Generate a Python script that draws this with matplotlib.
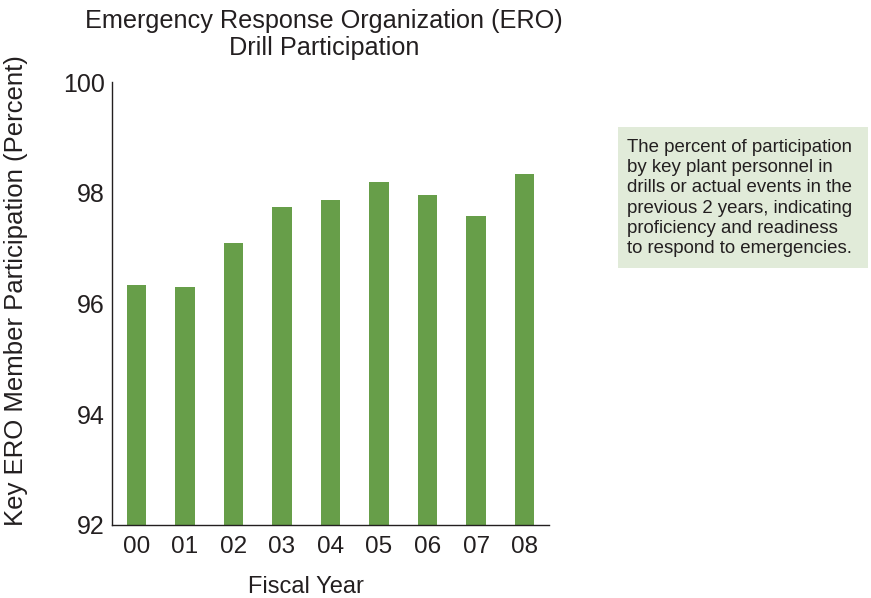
import matplotlib
matplotlib.use("Agg")
import matplotlib.pyplot as plt
from matplotlib.patches import Rectangle

years = ["00", "01", "02", "03", "04", "05", "06", "07", "08"]
participation = [96.33, 96.30, 97.09, 97.74, 97.87, 98.19, 97.96, 97.58, 98.34]
y_ticks = [92, 94, 96, 98, 100]

plt.rcParams['font.family'] = ['Liberation Sans', 'DejaVu Sans']
txt = "#231f20"

fig = plt.figure(figsize=(8.71, 5.98), dpi=100)
ax = fig.add_axes([112/871, 1-525/598, (549-112)/871, (525-82)/598])

x = list(range(len(years)))
ax.bar(x, [v - 92 for v in participation], bottom=92, width=0.4, color="#679E49")
ax.set_xlim(-0.5, 8.5)
ax.set_ylim(92, 100)
ax.set_xticks(x)
ax.set_xticklabels(years, fontsize=17.5, color=txt)
ax.set_yticks(y_ticks)
ax.set_yticklabels([str(t) for t in y_ticks], fontsize=18, color=txt)
ax.tick_params(axis="y", length=0, pad=5)
ax.tick_params(axis="x", length=0, pad=8)
for s in ["top", "right"]:
    ax.spines[s].set_visible(False)
for s in ["left", "bottom"]:
    ax.spines[s].set_color(txt)
    ax.spines[s].set_linewidth(1.0)

fig.text(306/871, 1-593/598, "Fiscal Year", fontsize=17, color=txt,
         ha="center", va="baseline")
fig.text(16/871, 1-291/598, "Key ERO Member Participation (Percent)", rotation=90,
         fontsize=18.5, color=txt, ha="center", va="center")
fig.text(324/871, 1-28/598, "Emergency Response Organization (ERO)",
         fontsize=18.2, color=txt, ha="center", va="baseline")
fig.text(324/871, 1-55/598, "Drill Participation",
         fontsize=18.2, color=txt, ha="center", va="baseline")

fig.patches.append(Rectangle((618/871, 1-268/598), (868-618)/871, (268-127)/598,
                             transform=fig.transFigure, facecolor="#E1EBD9",
                             edgecolor="none", zorder=0))
fig.text(627/871, 1-198/598,
         "The percent of participation\nby key plant personnel in\ndrills or actual events in the\n"
         "previous 2 years, indicating\nproficiency and readiness\nto respond to emergencies.",
         fontsize=13.4, color=txt, ha="left", va="center", linespacing=1.24)

fig.savefig("out.png", dpi=100)
